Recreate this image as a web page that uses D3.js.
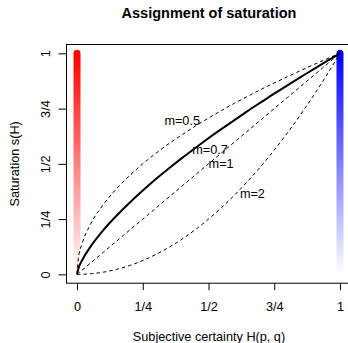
<!DOCTYPE html>
<html>
<head>
<meta charset="utf-8">
<script src="https://cdn.jsdelivr.net/npm/d3@7"></script>
<style>
  body { margin: 0; background: #fff; }
  text { font-family: "Liberation Sans", Arial, sans-serif; }
</style>
</head>
<body>
<div id="chart"></div>
<script>
// certainty values H and saturation
const H = [0, 0.005, 0.02, 0.05, 0.1, 0.15, 0.2, 0.25, 0.3, 0.35, 0.4, 0.45, 0.5,
           0.55, 0.6, 0.65, 0.7, 0.75, 0.8, 0.85, 0.9, 0.95, 1];
const sM05 = [0, 0.071, 0.141, 0.224, 0.316, 0.387, 0.447, 0.5, 0.548, 0.592, 0.632, 0.671, 0.707,
              0.742, 0.775, 0.806, 0.837, 0.866, 0.894, 0.922, 0.949, 0.975, 1];
const sM07 = [0, 0.025, 0.065, 0.123, 0.2, 0.265, 0.324, 0.379, 0.431, 0.48, 0.527, 0.572, 0.616,
              0.658, 0.699, 0.74, 0.779, 0.818, 0.855, 0.892, 0.929, 0.965, 1];
const sM1  = [0, 0.005, 0.02, 0.05, 0.1, 0.15, 0.2, 0.25, 0.3, 0.35, 0.4, 0.45, 0.5,
              0.55, 0.6, 0.65, 0.7, 0.75, 0.8, 0.85, 0.9, 0.95, 1];
const sM2  = [0, 0, 0.0004, 0.0025, 0.01, 0.0225, 0.04, 0.0625, 0.09, 0.1225, 0.16, 0.2025, 0.25,
              0.3025, 0.36, 0.4225, 0.49, 0.5625, 0.64, 0.7225, 0.81, 0.9025, 1];

const labelText = ["m=0.5", "m=0.7", "m=1", "m=2"];
const labelX = [0.40, 0.506, 0.548, 0.667];
const labelY = [0.695, 0.566, 0.503, 0.367];

const tickVals = [0, 0.25, 0.5, 0.75, 1];
const tickLabels = ["0", "1/4", "1/2", "3/4", "1"];

const width = 348, height = 343;
const mLeft = 66.5, mRight = 350.5, mTop = 44.5, mBottom = 283.2;

const svg = d3.select("#chart").append("svg")
    .attr("width", width)
    .attr("height", height);

const x = d3.scaleLinear().domain([-0.04, 1.04]).range([mLeft, mRight]);
const y = d3.scaleLinear().domain([-0.04, 1.04]).range([mBottom, mTop]);

// gradients for the colour bars
const defs = svg.append("defs");
function grad(id, color) {
  const g = defs.append("linearGradient")
      .attr("id", id)
      .attr("gradientUnits", "userSpaceOnUse")
      .attr("x1", 0).attr("x2", 0)
      .attr("y1", y(0)).attr("y2", y(1));
  g.append("stop").attr("offset", "0%").attr("stop-color", "#ffffff");
  g.append("stop").attr("offset", "100%").attr("stop-color", color);
}
grad("redGrad", "#ff0000");
grad("blueGrad", "#0000ff");

[[0, "redGrad"], [1, "blueGrad"]].forEach(function (d) {
  svg.append("line")
      .attr("x1", x(d[0])).attr("x2", x(d[0]))
      .attr("y1", y(0)).attr("y2", y(1))
      .attr("stroke", "url(#" + d[1] + ")")
      .attr("stroke-width", 7)
      .attr("stroke-linecap", "round");
});

// curves
const line = d3.line()
    .x(function (d) { return x(d[0]); })
    .y(function (d) { return y(d[1]); })
    .curve(d3.curveMonotoneX);

const series = [
  {vals: sM05, dash: "3.5,3", w: 1},
  {vals: sM07, dash: null, w: 2},
  {vals: sM1, dash: "3.5,3", w: 1},
  {vals: sM2, dash: "3.5,3", w: 1}
];
series.forEach(function (s) {
  svg.append("path")
      .datum(H.map(function (h, i) { return [h, s.vals[i]]; }))
      .attr("d", line)
      .attr("fill", "none")
      .attr("stroke", "#000")
      .attr("stroke-width", s.w)
      .attr("stroke-dasharray", s.dash);
});

// curve labels
svg.append("g")
    .selectAll("text")
    .data(labelText)
    .enter()
    .append("text")
    .attr("x", function (d, i) { return x(labelX[i]); })
    .attr("y", function (d, i) { return y(labelY[i]); })
    .attr("dy", "0.35em")
    .attr("text-anchor", "middle")
    .style("font-size", "12.7px")
    .text(function (d) { return d; });

// box
svg.append("rect")
    .attr("x", mLeft).attr("y", mTop)
    .attr("width", mRight - mLeft).attr("height", mBottom - mTop)
    .attr("fill", "none")
    .attr("stroke", "#000")
    .attr("stroke-width", 1);

// axes
const xAxis = svg.append("g")
    .attr("transform", "translate(0," + mBottom + ")")
    .call(d3.axisBottom(x).tickValues(tickVals)
      .tickFormat(function (d, i) { return tickLabels[i]; })
      .tickSize(7).tickPadding(12));
xAxis.select(".domain").remove();
xAxis.selectAll("text").style("font-size", "12.7px").attr("fill", "#000");

const yAxis = svg.append("g")
    .attr("transform", "translate(" + mLeft + ",0)")
    .call(d3.axisLeft(y).tickValues(tickVals)
      .tickFormat(function (d, i) { return tickLabels[i]; })
      .tickSize(8));
yAxis.select(".domain").remove();
yAxis.selectAll("text")
    .attr("x", null).attr("dy", null)
    .attr("text-anchor", "middle")
    .attr("transform", "translate(-17,0) rotate(-90)")
    .style("font-size", "12.7px")
    .attr("fill", "#000");

// titles
svg.append("text")
    .attr("x", 209).attr("y", 17.7)
    .attr("text-anchor", "middle")
    .style("font-size", "14.5px")
    .style("font-weight", "bold")
    .text("Assignment of saturation");

svg.append("text")
    .attr("x", 209).attr("y", 340.5)
    .attr("text-anchor", "middle")
    .style("font-size", "12.7px")
    .text("Subjective certainty H(p, q)");

svg.append("text")
    .attr("transform", "translate(18.5," + (mTop + mBottom) / 2 + ") rotate(-90)")
    .attr("text-anchor", "middle")
    .style("font-size", "12.7px")
    .text("Saturation s(H)");
</script>
</body>
</html>
